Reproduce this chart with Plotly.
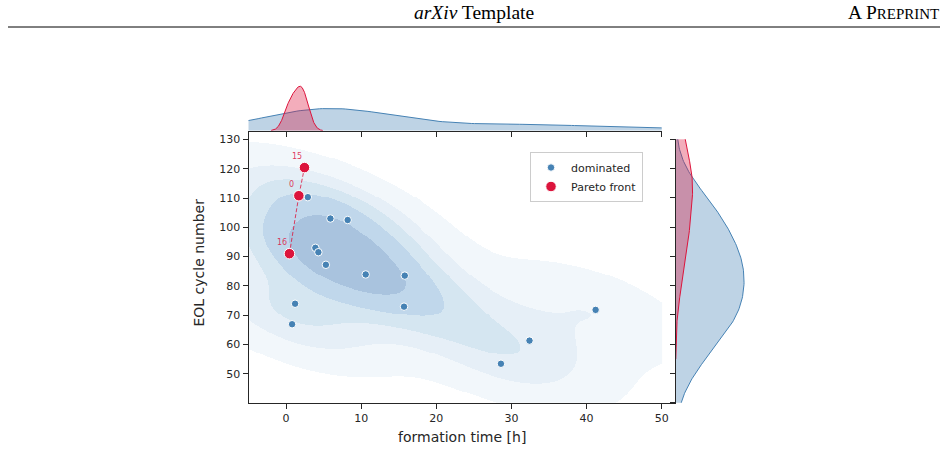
import numpy as np
import plotly.graph_objects as go

# ---------------- data ----------------
dom_time = [2.9, 5.9, 8.2, 3.9, 4.3, 5.3, 10.6, 15.8, 1.2, 0.8, 15.7, 41.2, 32.4, 28.6]
dom_eol = [110.3, 103.0, 102.5, 93.0, 91.5, 87.2, 83.9, 83.5, 73.9, 66.9, 72.9, 71.8, 61.3, 53.4]
pareto_time = [0.45, 1.7, 2.45]
pareto_eol = [91.0, 110.8, 120.4]
pareto_ids = ["16", "0", "15"]

x_ticks = [0, 10, 20, 30, 40, 50]
y_ticks = [50, 60, 70, 80, 90, 100, 110, 120, 130]
marg_y_ticks = [40, 50, 60, 70, 80, 90, 100, 110, 120, 130]

KDE_CLIP_X = [-5, 50]
KDE_CLIP_Y = [40, 130]
X_RANGE = [-5, 51.86]
Y_RANGE = [40.1, 133.0]

W, H = 948, 450
DOM_C = "#4682b4"
PAR_C = "#dc143c"
INK = "#262626"
band_colors = ["rgba(255,255,255,0)", "#f2f7fb", "#e6eff7", "#d5e6f1", "#c0d7eb", "#a9c3de"]


def px_x(p):
    return p / W


def px_y(p):
    return 1 - p / H


# ---------------- KDE helpers ----------------
def bw1d(d):
    d = np.asarray(d, float)
    return d.size ** (-1 / 5) * d.std(ddof=1)


def kde1d(d, grid, weight):
    d = np.asarray(d, float)
    bw = bw1d(d)
    z = (grid[:, None] - d[None, :]) / bw
    return weight * np.exp(-0.5 * z ** 2).sum(1) / (d.size * bw * np.sqrt(2 * np.pi))


def support(d):
    d = np.asarray(d, float)
    bw = bw1d(d)
    return np.linspace(d.min() - 3 * bw, d.max() + 3 * bw, 200)


n_all = len(dom_time) + len(pareto_time)
w_dom = len(dom_time) / n_all
w_par = len(pareto_time) / n_all

gx_dom = support(dom_time)
gx_par = support(pareto_time)
dx_dom = kde1d(dom_time, gx_dom, w_dom)
dx_par = kde1d(pareto_time, gx_par, w_par)

gy_dom = support(dom_eol)
gy_par = support(pareto_eol)
dy_dom = kde1d(dom_eol, gy_dom, w_dom)
dy_par = kde1d(pareto_eol, gy_par, w_par)

# bivariate KDE over the dominated points
ax_ = np.array(dom_time, float)
ay_ = np.array(dom_eol, float)
fac = ax_.size ** (-1 / 6)
cov = np.cov(np.vstack([ax_, ay_])) * fac ** 2
inv = np.linalg.inv(cov)
norm = 1 / (2 * np.pi * np.sqrt(np.linalg.det(cov)))


def dens2(X, Y):
    ddx = X[..., None] - ax_
    ddy = Y[..., None] - ay_
    q = inv[0, 0] * ddx ** 2 + 2 * inv[0, 1] * ddx * ddy + inv[1, 1] * ddy ** 2
    return norm * np.exp(-0.5 * q).mean(-1)


bwx, bwy = np.sqrt(np.diag(cov))
sx = np.linspace(ax_.min() - 3 * bwx, ax_.max() + 3 * bwx, 200)
sy = np.linspace(ay_.min() - 3 * bwy, ay_.max() + 3 * bwy, 200)
SX, SY = np.meshgrid(sx, sy)
sd = dens2(SX, SY)
iso = np.linspace(0.05, 1, 6)
vals = np.sort(sd.ravel())[::-1]
cum = np.cumsum(vals) / vals.sum()
levels = np.take(vals, np.searchsorted(cum, 1 - iso), mode="clip")

vx = np.linspace(KDE_CLIP_X[0], KDE_CLIP_X[1], 420)
vy = np.linspace(Y_RANGE[0], Y_RANGE[1], 280)
VX, VY = np.meshgrid(vx, vy)
vd = dens2(VX, VY)
band = np.digitize(vd, levels[:5]).astype(float)

cs = []
nb = len(band_colors)
for i, c in enumerate(band_colors):
    cs.append([i / nb, c])
    cs.append([(i + 1) / nb, c])

# ---------------- figure ----------------
fig = go.Figure()

fig.add_trace(go.Heatmap(x=vx, y=vy, z=band, colorscale=cs, zmin=-0.5, zmax=nb - 0.5,
                         zsmooth=False, showscale=False, hoverinfo="skip",
                         xaxis="x", yaxis="y"))

fig.add_trace(go.Scatter(x=pareto_time, y=pareto_eol, mode="lines",
                         line=dict(color="rgba(220,20,60,0.8)", width=1, dash="4px,2px"),
                         showlegend=False, xaxis="x", yaxis="y"))

fig.add_trace(go.Scatter(x=dom_time, y=dom_eol, mode="markers", name="dominated",
                         marker=dict(color=DOM_C, size=7.5, line=dict(color="white", width=1)),
                         xaxis="x", yaxis="y"))
fig.add_trace(go.Scatter(x=pareto_time, y=pareto_eol, mode="markers", name="Pareto front",
                         marker=dict(color=PAR_C, size=10.5, line=dict(color="white", width=1)),
                         xaxis="x", yaxis="y"))

for t, e, lab in zip(pareto_time, pareto_eol, pareto_ids):
    fig.add_annotation(x=t, y=e, xref="x", yref="y", text=lab, showarrow=False,
                       xshift=-7, yshift=11,
                       font=dict(size=8, color="rgba(220,20,60,0.85)", family="DejaVu Sans"))

# top marginal
fig.add_trace(go.Scatter(x=gx_dom, y=dx_dom, mode="lines", fill="tozeroy",
                         line=dict(color=DOM_C, width=1), fillcolor="rgba(70,130,180,0.35)",
                         showlegend=False, xaxis="x2", yaxis="y2"))
fig.add_trace(go.Scatter(x=gx_par, y=dx_par, mode="lines", fill="tozeroy",
                         line=dict(color=PAR_C, width=1), fillcolor="rgba(220,20,60,0.35)",
                         showlegend=False, xaxis="x2", yaxis="y2"))
# right marginal
fig.add_trace(go.Scatter(x=dy_dom, y=gy_dom, mode="lines", fill="tozerox",
                         line=dict(color=DOM_C, width=1), fillcolor="rgba(70,130,180,0.35)",
                         showlegend=False, xaxis="x3", yaxis="y3"))
fig.add_trace(go.Scatter(x=dy_par, y=gy_par, mode="lines", fill="tozerox",
                         line=dict(color=PAR_C, width=1), fillcolor="rgba(220,20,60,0.35)",
                         showlegend=False, xaxis="x3", yaxis="y3"))

top_max = max(dx_dom.max(), dx_par.max()) * 1.05
right_max = max(dy_dom.max(), dy_par.max()) * 1.05

tickfont = dict(family="DejaVu Sans", size=11, color=INK)
common = dict(showgrid=False, zeroline=False, linecolor=INK, linewidth=1,
              ticks="outside", ticklen=5, tickwidth=1, tickcolor=INK)

main_x = [px_x(248.5), px_x(675.7)]
top_x = [px_x(248.5), px_x(661.7)]
main_y = [px_y(402.7), px_y(130.7)]

fig.update_layout(
    width=W, height=H, margin=dict(l=0, r=0, t=0, b=0),
    paper_bgcolor="white", plot_bgcolor="rgba(0,0,0,0)",
    font=dict(family="DejaVu Sans", color=INK),
    xaxis=dict(domain=main_x, range=X_RANGE, tickvals=x_ticks, showline=True,
               tickfont=tickfont, anchor="y", **common),
    yaxis=dict(domain=main_y, range=Y_RANGE, tickvals=y_ticks, showline=True,
               tickfont=tickfont, anchor="x", **common),
    xaxis2=dict(domain=top_x, range=KDE_CLIP_X, tickvals=x_ticks, showline=True,
                showticklabels=False, anchor="y2", **common),
    yaxis2=dict(domain=[px_y(130.7), px_y(84)], range=[0, top_max], visible=False,
                anchor="x2"),
    xaxis3=dict(domain=[px_x(675.7), px_x(747.5)], range=[0, right_max], visible=False,
                anchor="y3"),
    yaxis3=dict(domain=[px_y(402.7), px_y(139.2)], range=KDE_CLIP_Y, tickvals=marg_y_ticks,
                showline=True, showticklabels=False, anchor="x3", **common),
    showlegend=True,
    legend=dict(x=px_x(530), y=px_y(152), xanchor="left", yanchor="top",
                bgcolor="rgba(255,255,255,0.8)", bordercolor="#cccccc", borderwidth=1,
                font=dict(family="DejaVu Sans", size=11, color=INK), itemsizing="trace",
                tracegroupgap=0),
)

# axis titles
fig.add_annotation(text="formation time [h]", xref="paper", yref="paper",
                   x=(main_x[0] + main_x[1]) / 2, y=px_y(436.5), showarrow=False,
                   font=dict(family="DejaVu Sans", size=14, color=INK), xanchor="center", yanchor="middle")
fig.add_annotation(text="EOL cycle number", xref="paper", yref="paper",
                   x=px_x(198.5), y=px_y(263), showarrow=False, textangle=-90,
                   font=dict(family="DejaVu Sans", size=14, color=INK), xanchor="center", yanchor="middle")

# page header
fig.add_annotation(text="<i>arXiv</i> Template", xref="paper", yref="paper",
                   x=px_x(474), y=px_y(13), showarrow=False,
                   font=dict(family="Liberation Serif", size=19.5, color="black"),
                   xanchor="center", yanchor="middle")
fig.add_annotation(text="A P<span style='font-size:15px'>REPRINT</span>", xref="paper", yref="paper",
                   x=px_x(941), y=px_y(13), showarrow=False,
                   font=dict(family="Liberation Serif", size=19.5, color="black"),
                   xanchor="right", yanchor="middle")
fig.add_shape(type="line", xref="paper", yref="paper", x0=px_x(8), x1=px_x(940),
              y0=px_y(27), y1=px_y(27), line=dict(color="black", width=1))

fig.write_html("out.html")
